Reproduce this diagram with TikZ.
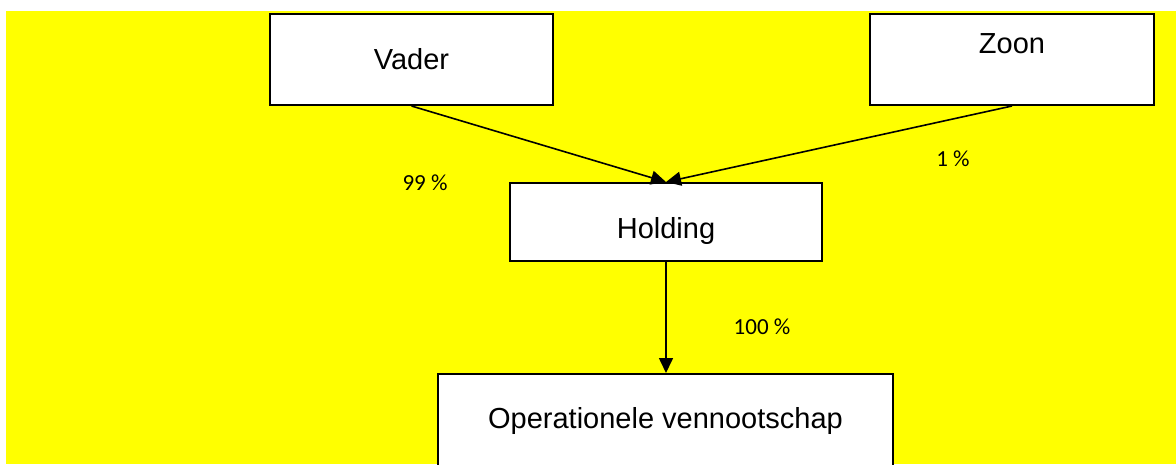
\documentclass[tikz,border=0pt]{standalone}
\usepackage{fontspec}
\setmainfont{Liberation Sans}
\newfontfamily\labelfont{Carlito}
\usetikzlibrary{arrows.meta}

\definecolor{bgyellow}{RGB}{255,255,0}

\tikzset{
  entity/.style={draw=black, line width=2pt, fill=white, inner xsep=0pt, inner ysep=0pt,
    anchor=north, font=\fontsize{29}{34}\selectfont},
  share/.style={font=\labelfont\fontsize{23}{27}\selectfont, inner sep=0pt, anchor=base},
  owns/.style={line width=1.6pt, -{Triangle[length=15pt,width=14pt]}}
}

\begin{document}
\begin{tikzpicture}[x=1pt,y=-1pt]
  \clip (0,0) rectangle (1176,464);
  % page background
  \fill[bgyellow] (6,11) rectangle (1176,464);

  % shareholders
  \node[entity, minimum width=283pt, text height=55pt, text depth=36pt]
    (vader) at (411.5,13) {Vader};
  \node[entity, minimum width=284pt, text height=39pt, text depth=52pt]
    (zoon) at (1012,13) {Zoon};

  % holding company
  \node[entity, minimum width=312pt, text height=55pt, text depth=23pt]
    (holding) at (666,182) {Holding};

  % operating company
  \node[entity, minimum width=455pt, text height=54pt, text depth=60pt]
    (opco) at (665.5,373) {Operationele vennootschap};

  % ownership links
  \draw[owns] (vader.south) -- (holding.north);
  \draw[owns] (zoon.south) -- (holding.north);
  \draw[owns] (holding.south) -- (holding.south |- opco.north);

  % shareholding percentages
  \node[share] (pv) at (425,190) {99 \%};
  \node[share] (pz) at (953,166) {1 \%};
  \node[share] (ph) at (762,334) {100 \%};
\end{tikzpicture}
\end{document}
